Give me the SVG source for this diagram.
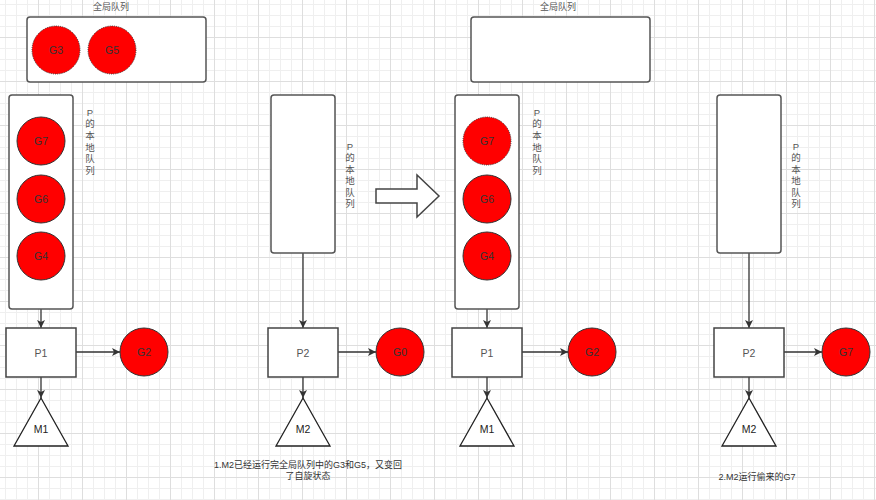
<svg xmlns="http://www.w3.org/2000/svg" width="876" height="500" viewBox="0 0 876 500">
<defs>
<pattern id="grid" x="38" y="37" width="44" height="44" patternUnits="userSpaceOnUse">
<path d="M11.5 0V44M22.5 0V44M33.5 0V44M0 11.5H44M0 22.5H44M0 33.5H44" stroke="#efefef" stroke-width="1" fill="none"/>
<path d="M0.5 0V44M0 0.5H44" stroke="#dedede" stroke-width="1" fill="none"/>
</pattern>
<marker id="ah" viewBox="0 0 10 10" refX="10" refY="5" markerWidth="8" markerHeight="8" markerUnits="userSpaceOnUse" orient="auto">
<path d="M0,0 L10,5 L0,10 L2.5,5 z" fill="#333"/>
</marker>
<style>
.q{fill:#fff;stroke:#555;stroke-width:1.5}
.g{fill:#f00;stroke:#333;stroke-width:1}
.gd{fill:#f00;stroke:#333;stroke-width:1;stroke-dasharray:1 1.2}
.p{fill:#fff;stroke:#444;stroke-width:1.5}
.m{fill:#fff;stroke:#222;stroke-width:1.3}
.c{stroke:#333;stroke-width:1.3;fill:none;marker-end:url(#ah)}
.big{fill:#fff;stroke:#444;stroke-width:1.5}
text{font-family:"Liberation Sans","Noto Sans CJK SC",sans-serif;text-anchor:middle}
.t{font-size:9px;fill:#555}
.gl{font-size:10.5px;fill:#333}
.pl{font-size:10.5px;fill:#555}
.ml{font-size:10.5px;fill:#222}
.cap{font-size:9px;fill:#333}
.v{font-size:9.5px;fill:#555}
</style>
</defs>
<rect width="876" height="500" fill="#fff"/>
<rect width="876" height="500" fill="url(#grid)"/>

<g id="connectors">
<line class="c" x1="41" y1="309" x2="41" y2="328"/>
<line class="c" x1="76" y1="352" x2="120" y2="352"/>
<line class="c" x1="41" y1="377" x2="41" y2="398"/>
<line class="c" x1="303" y1="253" x2="303" y2="328"/>
<line class="c" x1="338" y1="352" x2="376" y2="352"/>
<line class="c" x1="303" y1="377" x2="303" y2="398"/>
<line class="c" x1="487" y1="309" x2="487" y2="328"/>
<line class="c" x1="522" y1="352" x2="568" y2="352"/>
<line class="c" x1="487" y1="377" x2="487" y2="398"/>
<line class="c" x1="749" y1="253" x2="749" y2="328"/>
<line class="c" x1="784" y1="352" x2="822" y2="352"/>
<line class="c" x1="749" y1="377" x2="749" y2="398"/>
</g>

<!-- Section 1 -->
<g id="global-queue-1">
<text class="t" x="111" y="10">全局队列</text>
<rect class="q" x="27" y="17" width="179" height="65" rx="3"/>
</g>
<g id="g3-global"><circle class="gd" cx="56" cy="50" r="24"/><text class="gl" x="56" y="54">G3</text></g>
<g id="g5-global"><circle class="gd" cx="112" cy="50" r="24"/><text class="gl" x="112" y="54">G5</text></g>

<g id="local-queue-1">
<rect class="q" x="9" y="95" width="64" height="214" rx="3"/>
<text class="v" x="90" y="115.5"><tspan x="90">P</tspan><tspan x="90" dy="11.7">的</tspan><tspan x="90" dy="11.7">本</tspan><tspan x="90" dy="11.7">地</tspan><tspan x="90" dy="11.7">队</tspan><tspan x="90" dy="11.7">列</tspan></text>
</g>
<g id="g7-local-1"><circle class="g" cx="41" cy="141" r="24"/><text class="gl" x="41" y="145">G7</text></g>
<g id="g6-local-1"><circle class="g" cx="41" cy="199" r="24"/><text class="gl" x="41" y="203">G6</text></g>
<g id="g4-local-1"><circle class="g" cx="41" cy="256" r="24"/><text class="gl" x="41" y="260">G4</text></g>
<g id="p1-a"><rect class="p" x="6" y="328" width="70" height="49"/><text class="pl" x="41" y="356.5">P1</text></g>
<g id="g2-a"><circle class="g" cx="144" cy="352" r="24"/><text class="gl" x="144" y="356">G2</text></g>
<g id="m1-a"><polygon class="m" points="41,398 14,446 68,446"/><text class="ml" x="41" y="432.5">M1</text></g>

<!-- Section 2 -->
<g id="local-queue-2">
<rect class="q" x="271" y="95" width="64" height="158" rx="3"/>
<text class="v" x="350" y="149.5"><tspan x="350">P</tspan><tspan x="350" dy="11.5">的</tspan><tspan x="350" dy="11.5">本</tspan><tspan x="350" dy="11.5">地</tspan><tspan x="350" dy="11.5">队</tspan><tspan x="350" dy="11.5">列</tspan></text>
</g>
<g id="big-arrow"><polygon class="big" points="376,189 417,189 417,175 439,196 417,217 417,203 376,203"/></g>
<g id="p2-a"><rect class="p" x="268" y="328" width="70" height="49"/><text class="pl" x="303" y="356.5">P2</text></g>
<g id="g0"><circle class="g" cx="400" cy="352" r="24"/><text class="gl" x="400" y="356">G0</text></g>
<g id="m2-a"><polygon class="m" points="303,398 276,446 330,446"/><text class="ml" x="303" y="432.5">M2</text></g>
<g id="caption-1">
<text class="cap" x="308" y="467.5">1.M2已经运行完全局队列中的G3和G5，又变回</text>
<text class="cap" x="308" y="478.5">了自旋状态</text>
</g>

<!-- Section 3 -->
<g id="global-queue-2">
<text class="t" x="558" y="10">全局队列</text>
<rect class="q" x="471" y="17" width="179" height="65" rx="3"/>
</g>
<g id="local-queue-3">
<rect class="q" x="455" y="95" width="64" height="214" rx="3"/>
<text class="v" x="537" y="115.5"><tspan x="537">P</tspan><tspan x="537" dy="11.7">的</tspan><tspan x="537" dy="11.7">本</tspan><tspan x="537" dy="11.7">地</tspan><tspan x="537" dy="11.7">队</tspan><tspan x="537" dy="11.7">列</tspan></text>
</g>
<g id="g7-local-3"><circle class="gd" cx="487" cy="141" r="24"/><text class="gl" x="487" y="145">G7</text></g>
<g id="g6-local-3"><circle class="g" cx="487" cy="199" r="24"/><text class="gl" x="487" y="203">G6</text></g>
<g id="g4-local-3"><circle class="g" cx="487" cy="256" r="24"/><text class="gl" x="487" y="260">G4</text></g>
<g id="p1-b"><rect class="p" x="452" y="328" width="70" height="49"/><text class="pl" x="487" y="356.5">P1</text></g>
<g id="g2-b"><circle class="g" cx="592" cy="352" r="24"/><text class="gl" x="592" y="356">G2</text></g>
<g id="m1-b"><polygon class="m" points="487,398 460,446 514,446"/><text class="ml" x="487" y="432.5">M1</text></g>

<!-- Section 4 -->
<g id="local-queue-4">
<rect class="q" x="717" y="95" width="64" height="158" rx="3"/>
<text class="v" x="796" y="149.5"><tspan x="796">P</tspan><tspan x="796" dy="11.5">的</tspan><tspan x="796" dy="11.5">本</tspan><tspan x="796" dy="11.5">地</tspan><tspan x="796" dy="11.5">队</tspan><tspan x="796" dy="11.5">列</tspan></text>
</g>
<g id="p2-b"><rect class="p" x="714" y="328" width="70" height="49"/><text class="pl" x="749" y="356.5">P2</text></g>
<g id="g7-run"><circle class="g" cx="846" cy="352" r="24"/><text class="gl" x="846" y="356">G7</text></g>
<g id="m2-b"><polygon class="m" points="749,398 722,446 776,446"/><text class="ml" x="749" y="432.5">M2</text></g>
<g id="caption-2"><text class="cap" x="757" y="479.5">2.M2运行偷来的G7</text></g>
</svg>
